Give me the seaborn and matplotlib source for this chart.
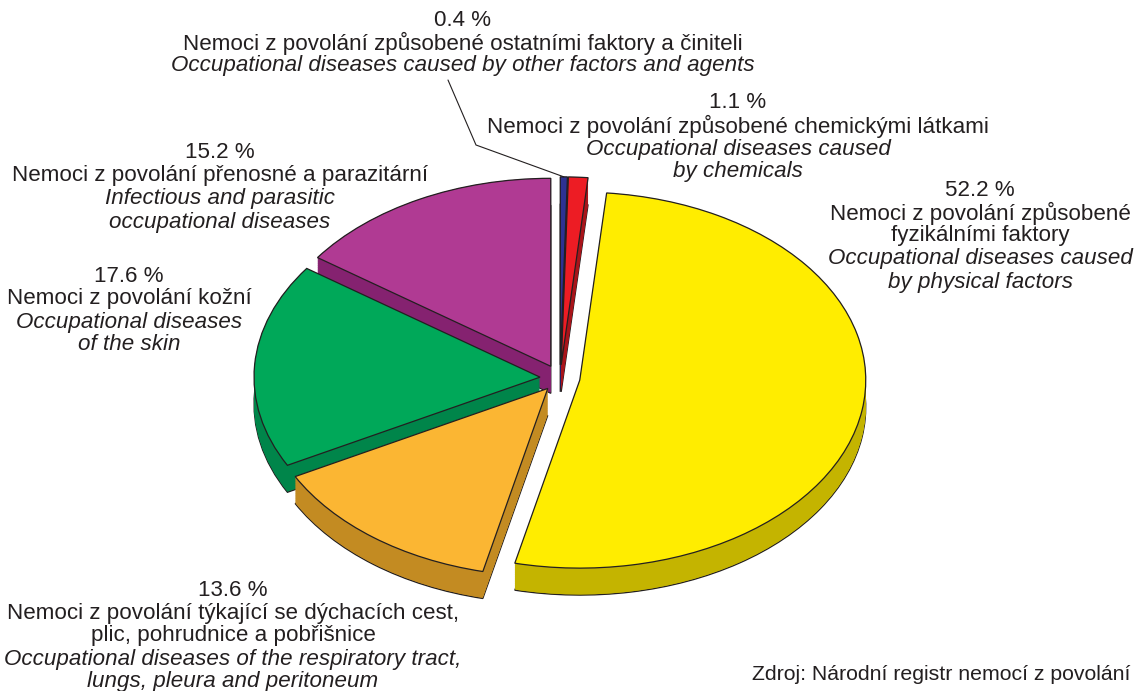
import numpy as np
import matplotlib
matplotlib.use("Agg")
import matplotlib.pyplot as plt
import seaborn as sns

# Shares of occupational disease groups (percent), clockwise from 12 o'clock
groups = ["other", "chemical", "physical", "respiratory", "skin", "infectious"]
shares = [0.4, 1.1, 52.2, 13.6, 17.6, 15.2]
pct_labels = ["0.4 %", "1.1 %", "52.2 %", "13.6 %", "17.6 %", "15.2 %"]

cz_labels = [
    ["Nemoci z povolání způsobené ostatními faktory a činiteli"],
    ["Nemoci z povolání způsobené chemickými látkami"],
    ["Nemoci z povolání způsobené", "fyzikálními faktory"],
    ["Nemoci z povolání týkající se dýchacích cest,", "plic, pohrudnice a pobřišnice"],
    ["Nemoci z povolání kožní"],
    ["Nemoci z povolání přenosné a parazitární"],
]
en_labels = [
    ["Occupational diseases caused by other factors and agents"],
    ["Occupational diseases caused", "by chemicals"],
    ["Occupational diseases caused", "by physical factors"],
    ["Occupational diseases of the respiratory tract,", "lungs, pleura and peritoneum"],
    ["Occupational diseases", "of the skin"],
    ["Infectious and parasitic", "occupational diseases"],
]
source_text = "Zdroj: Národní registr nemocí z povolání"

top_colors = ["#2E3192", "#ED1C24", "#FFED00", "#FBB633", "#00A859", "#B03A93"]
side_colors = ["#1F2266", "#A8141A", "#C4B400", "#C38B22", "#00854A", "#852270"]

sns.set_theme(style="white")
plt.rcParams["font.family"] = ["Liberation Sans", "DejaVu Sans"]

W, H = 1135, 691
fig = plt.figure(figsize=(W / 100, H / 100), dpi=100)
ax = fig.add_axes([0, 0, 1, 1])

# pixel geometry of the ellipse
cx_px, cy_px, rx_px, ry_px = 560, 378, 286, 188
depth = 27 / ry_px
explode = [0.07] * len(shares)
edge = "#231F20"

# bottom outline of the extruded pie
ax.pie(shares, startangle=90, counterclock=False, explode=explode,
       colors=side_colors, center=(0, -depth),
       wedgeprops=dict(linewidth=0.9, edgecolor=edge))
# side walls built up from thin layers
n_layers = 40
for z in np.linspace(-depth, 0, n_layers)[1:]:
    ax.pie(shares, startangle=90, counterclock=False, explode=explode,
           colors=side_colors, center=(0, z),
           wedgeprops=dict(linewidth=0))
# top faces
wedges, _ = ax.pie(shares, startangle=90, counterclock=False, explode=explode,
                   colors=top_colors, center=(0, 0),
                   wedgeprops=dict(linewidth=0.9, edgecolor=edge))

ax.set_aspect("auto")
ax.set_xlim(-cx_px / rx_px, (W - cx_px) / rx_px)
ax.set_ylim(-(H - cy_px) / ry_px, cy_px / ry_px)
ax.axis("off")


def to_data(px, py):
    return (px - cx_px) / rx_px, (cy_px - py) / ry_px


# leader line to the smallest wedge
w = wedges[0]
mid = np.deg2rad((w.theta1 + w.theta2) / 2)
tip = (w.center[0] + w.r * np.cos(mid), w.center[1] + w.r * np.sin(mid))
p0 = to_data(448, 80)
p1 = to_data(476, 145)
ax.plot([p0[0], p1[0], tip[0]], [p0[1], p1[1], tip[1]],
        color=edge, linewidth=0.8, solid_joinstyle="miter")

txt_color = "#231F20"
fs = 16.1

# label blocks: centre x and first-line y in pixels, line step
label_pos = [(463, 20), (738, 103), (980, 190), (233, 590), (129, 276), (220, 153)]
step = 23

for i in range(len(shares)):
    x, y = label_pos[i]
    lines = [(pct_labels[i], "normal")]
    lines += [(t, "normal") for t in cz_labels[i]]
    lines += [(t, "italic") for t in en_labels[i]]
    for k, (t, st) in enumerate(lines):
        fig.text(x / W, 1 - (y + k * step) / H, t, ha="center", va="center",
                 fontsize=fs, style=st, color=txt_color)

fig.text(1130 / W, 1 - 675 / H, source_text, ha="right", va="center",
         fontsize=15.3, color=txt_color)

fig.savefig("out.png", dpi=100, facecolor="white")
